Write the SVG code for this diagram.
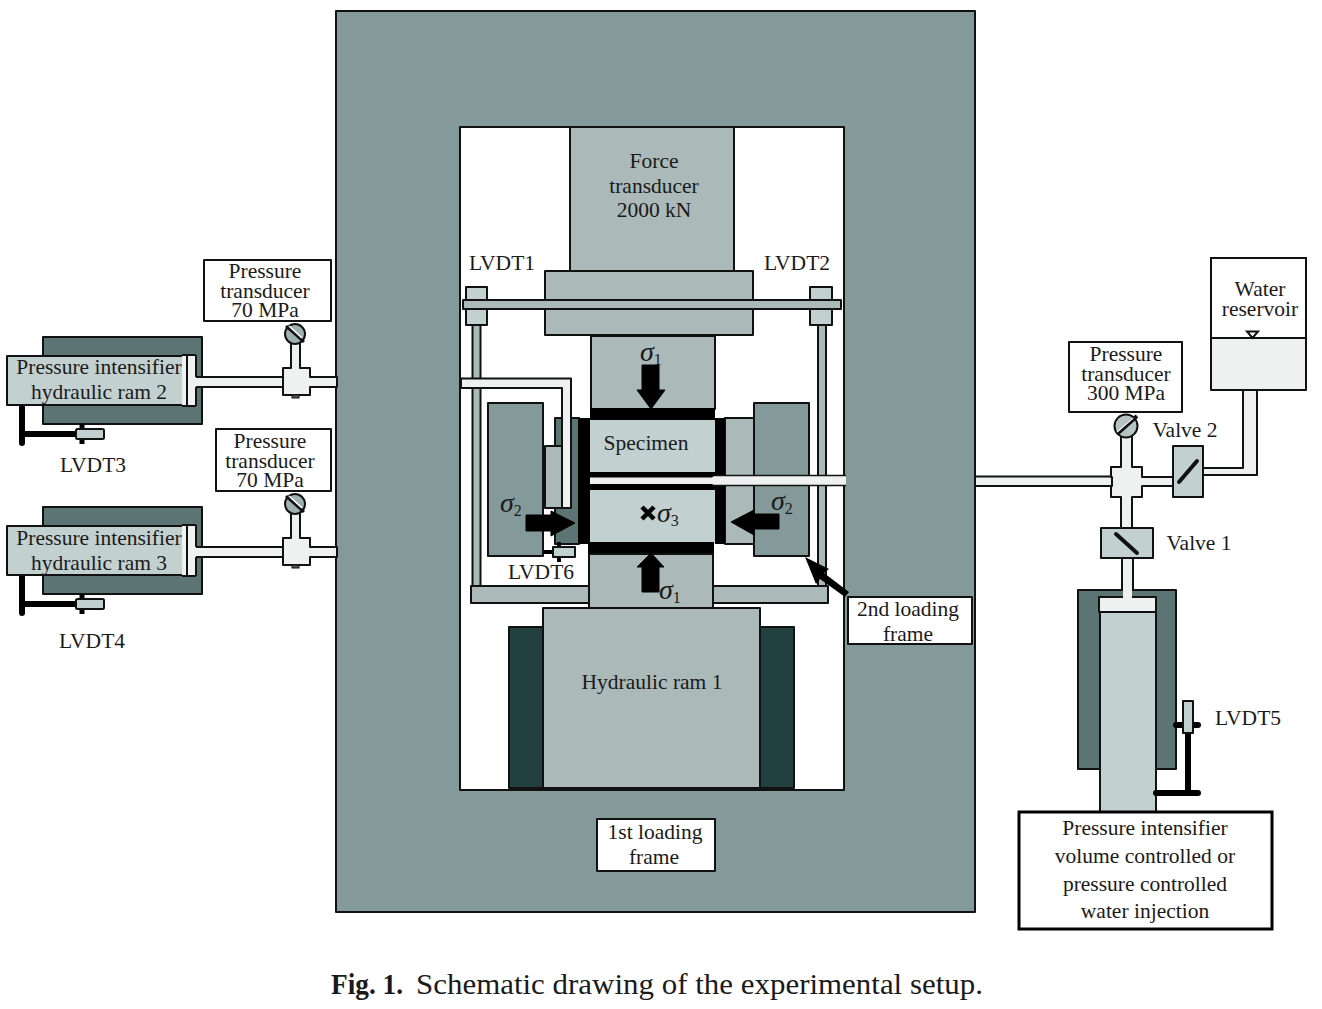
<svg xmlns="http://www.w3.org/2000/svg" width="1322" height="1009" viewBox="0 0 1322 1009">
<style>
text{font-family:"Liberation Serif","Times New Roman",serif;font-size:21.5px;fill:#1a1a1a;text-anchor:middle}
.s{stroke:#111;stroke-width:2;stroke-linejoin:round}
.f{fill:#849a9a}.m{fill:#abb9b9}.l{fill:#c3d0d0}.d{fill:#5c7474}.v{fill:#224040}.p{fill:#eff1f0}.w{fill:#fff}.k{fill:#000}
.bar{stroke:#000;stroke-width:6;stroke-linecap:round;fill:none}
.sig{font-style:italic;font-size:28px}.sub{font-size:16px;font-style:normal}
.t{text-anchor:start}
</style>
<defs>
<g id="gauge">
<circle r="10" class="s" fill="#9fb0b0"/>
<path d="M-9-8L9 8" stroke="#111" stroke-width="3"/><path d="M-6-8L7 4" stroke="#fff" stroke-width="1.500"/>
</g>
<g id="hram">
<rect x="43" y="0" width="159" height="87" class="s d"/>
<path d="M22 68V106M22 97H78" class="bar"/><path d="M82 87V107" stroke="#000" stroke-width="5"/>
<rect x="76" y="92" width="28" height="10" rx="1.500" class="s l"/>
<rect x="7" y="19" width="188" height="49" class="s l"/>
<path d="M196 40H284V50H196Z" class="p"/>
<path d="M196 40H284M196 50H284" stroke="#111" stroke-width="2" fill="none"/>
<rect x="182" y="18" width="14" height="51" class="p"/><path d="M187 18V69M196 18V40M196 50V69M182 18H196M182 69H196" stroke="#111" stroke-width="2" fill="none"/>
</g>
<g id="junction">
<path d="M283 9H291V-24H300V9H310V18H337V28H310V36H283Z" class="p s"/>
<rect x="292" y="36" width="7" height="3" fill="#555" stroke="#111"/>
</g>
</defs>

<g id="frame1"><rect x="336" y="11" width="639" height="901" class="s f"/><rect x="460" y="127" width="384" height="663" class="s w"/></g>

<g id="ram2"><use href="#hram" y="337"/>
<text x="99" y="374">Pressure intensifier</text><text x="99" y="399">hydraulic ram 2</text>
<text x="93" y="472">LVDT3</text></g>
<g id="ram3"><use href="#hram" y="507"/>
<text x="99" y="545">Pressure intensifier</text><text x="99" y="570">hydraulic ram 3</text>
<text x="92" y="648">LVDT4</text></g>

<g id="connectors">
<use href="#junction" y="359"/><use href="#junction" y="529"/>
<path d="M976 476.500H1112V486H976Z" class="p"/><path d="M976 476.500H1112M976 486H1112" stroke="#111" stroke-width="2"/>
<path d="M1121 436H1132V467H1142V477H1173V486H1142V497H1132V528H1121V497H1111V486H1112V477H1111V467H1121Z" class="p s"/>
<path d="M1203 468H1243V390H1257V475H1203Z" class="p s"/>
<path d="M1122 558H1133V598H1122Z" class="p s"/>
</g>

<g id="transducer-70-a"><rect x="204" y="260" width="127" height="61" class="s w"/><text x="265" y="278">Pressure<tspan x="265" dy="19.500">transducer</tspan><tspan x="265" dy="19.500">70 MPa</tspan></text></g>
<g id="transducer-70-b"><rect x="216" y="429" width="115" height="62" class="s w"/><text x="270" y="448">Pressure<tspan x="270" dy="19.500">transducer</tspan><tspan x="270" dy="19.500">70 MPa</tspan></text></g>
<g id="gauge-a"><use href="#gauge" x="295" y="334"/></g>
<g id="gauge-b"><use href="#gauge" x="295" y="504"/></g>

<g id="force-transducer"><rect x="570" y="127" width="164" height="144" class="s m"/><text x="654" y="168">Force</text><text x="654" y="193">transducer</text><text x="654" y="217">2000 kN</text></g>

<g id="rods">
<rect x="472.500" y="325" width="8" height="262" class="s m"/><rect x="818" y="325" width="8" height="262" class="s m"/>
<rect x="471" y="586" width="357" height="17" class="s m"/>
</g>
<g id="crosshead">
<rect x="545" y="271" width="208" height="64" class="s m"/>
<rect x="466" y="287" width="21" height="38" class="s l"/><rect x="810" y="287" width="22" height="38" class="s l"/>
<rect x="463" y="300" width="378" height="9" class="s m"/>
<text x="502" y="270">LVDT1</text><text x="797" y="270">LVDT2</text>
</g>

<g id="blocks">
<rect x="488" y="403" width="55" height="153" class="s f"/>
<rect x="754" y="403" width="55" height="153" class="s f"/>
<rect x="555" y="418" width="24" height="126" class="s d"/>
<rect x="725" y="418" width="29" height="126" class="s m"/>
<rect x="591" y="336" width="124" height="73" class="s m"/>
</g>

<g id="specimen">
<rect x="589" y="420" width="127" height="53" class="l"/><rect x="589" y="489" width="127" height="54" class="l"/>
<rect x="578" y="418" width="12" height="126" class="k"/><rect x="715" y="418" width="10" height="126" class="k"/>
<rect x="590" y="408" width="125" height="12" class="k"/>
<rect x="590" y="472" width="126" height="18" class="k"/>
<rect x="588" y="542" width="126" height="12" class="k"/>
<path d="M590 477.500H712L714 476H846V485H714L712 484H590Z" class="p"/>
<path d="M714 475.500H846M714 485.500H846" stroke="#111" stroke-width="1.500"/>
<text x="646" y="450">Specimen</text>
<path d="M642 507L654 519M654 507L642 519" stroke="#000" stroke-width="4.500" fill="none"/>
<text x="657" y="522" class="sig t">σ<tspan class="sub" dy="4">3</tspan></text>
</g>

<g id="lvdt6-pipe">
<path d="M461 378.500H571V508H562V388H461Z" class="p s"/>
<rect x="545" y="446" width="17" height="62" class="s m"/>
<path d="M544 552H553" stroke="#000" stroke-width="4"/><path d="M559 542V562" stroke="#000" stroke-width="4"/>
<rect x="553" y="547" width="22" height="10" class="s l"/>
<text x="541" y="579">LVDT6</text>
</g>

<g id="ram1">
<rect x="589" y="554" width="124" height="54" class="s m"/>
<rect x="509" y="627" width="285" height="161" class="s v"/>
<rect x="543" y="608" width="217" height="180" class="s m"/>
<text x="652" y="689">Hydraulic ram 1</text>
</g>

<g id="stress-arrows">
<path d="M642 365H659V390H665L651 409L637 390H642Z" class="k" stroke="#000"/>
<text x="640" y="361" class="sig t">σ<tspan class="sub" dy="4">1</tspan></text>
<path d="M642 592H659V567H664L651 553L637 567H642Z" class="k" stroke="#000"/>
<text x="659" y="599" class="sig t">σ<tspan class="sub" dy="4">1</tspan></text>
<path d="M526 515H551V511L575 523L551 536V531H526Z" class="k" stroke="#000"/>
<text x="500" y="512" class="sig t">σ<tspan class="sub" dy="4">2</tspan></text>
<path d="M779 514H754V510L731 522L754 535V529H779Z" class="k" stroke="#000"/>
<text x="771" y="510" class="sig t">σ<tspan class="sub" dy="4">2</tspan></text>
</g>

<g id="frame2-label">
<path d="M805 557L829 569L824 573L849 592L845 597L820 579L816 584Z" class="k"/>
<rect x="848" y="597" width="124" height="47" class="s w"/>
<text x="908" y="616">2nd loading</text><text x="908" y="641">frame</text>
</g>
<g id="frame1-label"><rect x="597" y="819" width="118" height="52" class="s w"/><text x="655" y="839">1st loading</text><text x="654" y="864">frame</text></g>

<g id="reservoir">
<rect x="1211" y="258" width="95" height="80" class="w" stroke="#111" stroke-width="2"/>
<rect x="1211" y="338" width="95" height="52" class="s p"/>
<path d="M1247 331.500H1258L1252.500 338Z" fill="#fff" stroke="#111" stroke-width="2"/>
<text x="1260" y="296">Water<tspan x="1260" dy="20">reservoir</tspan></text>
</g>
<g id="transducer-300"><rect x="1069" y="342" width="113" height="70" class="s w"/><text x="1126" y="361">Pressure<tspan x="1126" dy="19.500">transducer</tspan><tspan x="1126" dy="19.500">300 MPa</tspan></text></g>
<g id="gauge-c"><circle cx="1126" cy="426" r="11.500" class="s" fill="#b6c4c4"/><path d="M1117 434L1137 416" stroke="#111" stroke-width="4"/><path d="M1117 432L1133 418" stroke="#fff" stroke-width="1.500"/></g>
<g id="valve2"><rect x="1173" y="446" width="30" height="51" class="s l"/><path d="M1179 482L1197 461" stroke="#111" stroke-width="4" stroke-linecap="round"/><text x="1185" y="437">Valve 2</text></g>
<g id="valve1"><rect x="1101" y="528" width="52" height="30" class="s l"/><path d="M1116 534L1137 553" stroke="#111" stroke-width="4" stroke-linecap="round"/><text x="1199" y="550">Valve 1</text></g>

<g id="intensifier">
<rect x="1078" y="590" width="98" height="179" class="s d"/>
<rect x="1100" y="612" width="56" height="201" class="s l"/>
<rect x="1099" y="597" width="57" height="15" class="s p"/>
<rect x="1123" y="585" width="9" height="13" class="p"/>
<path d="M1188 733V793M1156 793H1198M1176 725H1198" class="bar"/>
<rect x="1183" y="701" width="10" height="32" class="s l"/>
<text x="1248" y="725">LVDT5</text>
<rect x="1019" y="812" width="253" height="117" class="w" stroke="#000" stroke-width="3"/>
<text x="1145" y="835">Pressure intensifier</text><text x="1145" y="863">volume controlled or</text><text x="1145" y="891">pressure controlled</text><text x="1145" y="918">water injection</text>
</g>

<g id="caption"><text x="331" y="994" class="t" style="font-size:29px;font-weight:bold" textLength="72" lengthAdjust="spacingAndGlyphs">Fig. 1.</text><text x="416" y="994" class="t" style="font-size:29px" textLength="567" lengthAdjust="spacingAndGlyphs">Schematic drawing of the experimental setup.</text></g>
</svg>
